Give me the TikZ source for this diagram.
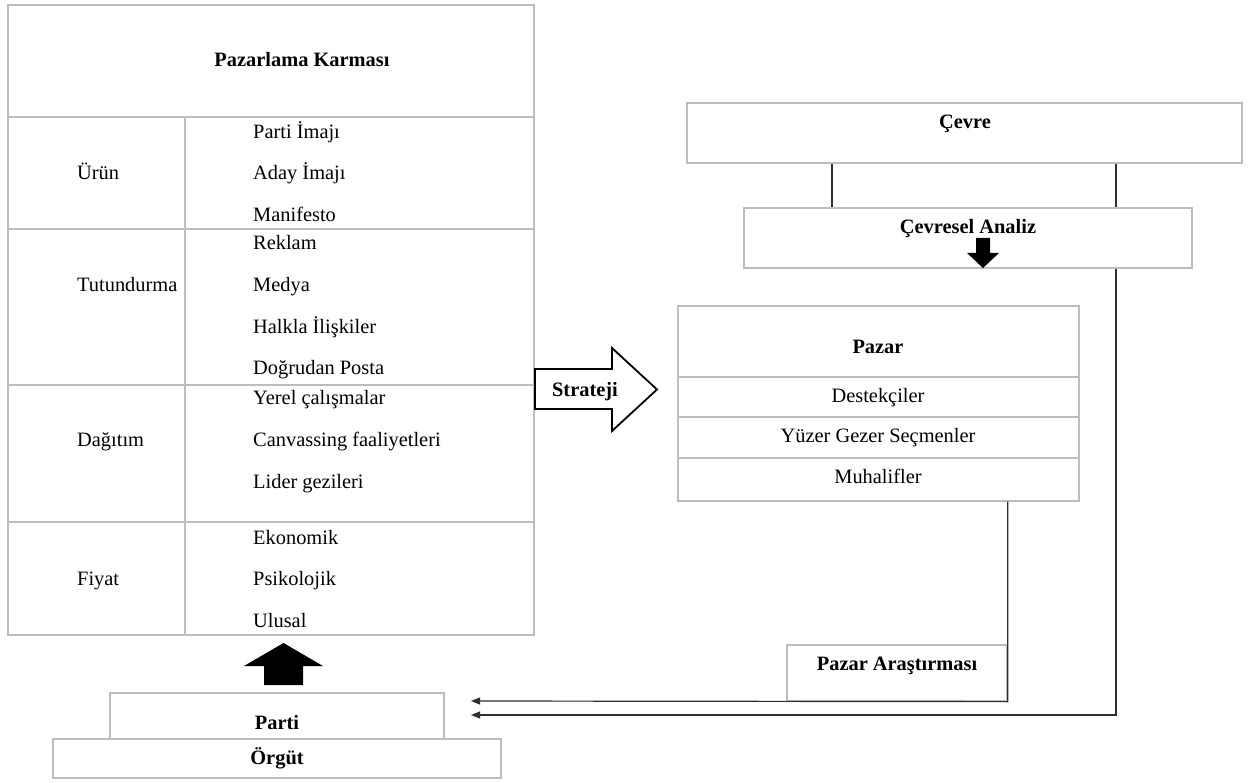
\documentclass[tikz,border=0pt]{standalone}
\usepackage{fontspec}
\setmainfont{Liberation Serif}
\usetikzlibrary{arrows.meta}
\definecolor{gridgray}{HTML}{BDBDBD}
\definecolor{linkgray}{HTML}{2E2E2E}
\begin{document}
\begin{tikzpicture}[x=1pt,y=-1pt,
  frame/.style={draw=gridgray,line width=1.3pt,rectangle,inner sep=0pt},
  txt/.style={inner sep=0pt,anchor=base,font=\fontsize{20.4}{24}\selectfont},
  btxt/.style={txt,font=\fontsize{20.4}{24}\selectfont\bfseries},
  ltxt/.style={txt,anchor=base west},
  link/.style={draw=linkgray,line width=1.2pt},
  tip/.style={-{Triangle[length=9pt,width=7pt]}},
  block/.style={fill=black,draw=none}]
% page
\useasboundingbox (0,0) rectangle (1251,783);
\fill[white] (0,0) rectangle (1251,783);

% marketing mix table
\node[frame,minimum width=526pt,minimum height=630pt] (mix) at (271,320) {};
\coordinate (colx) at (185,0);
\coordinate (r0) at (0,117);
\coordinate (r1) at (0,229);
\coordinate (r2) at (0,385);
\coordinate (r3) at (0,522);
\draw[draw=gridgray,line width=1.3pt] (mix.west |- r0) -- (mix.east |- r0);
\draw[draw=gridgray,line width=1.3pt] (mix.west |- r1) -- (mix.east |- r1);
\draw[draw=gridgray,line width=1.3pt] (mix.west |- r2) -- (mix.east |- r2);
\draw[draw=gridgray,line width=1.3pt] (mix.west |- r3) -- (mix.east |- r3);
\draw[draw=gridgray,line width=1.3pt] (r0 -| colx) -- (mix.south -| colx);

\node[btxt] (mixh) at (302,67) {Pazarlama Karması};
\node[ltxt] (c1) at (77,180) {Ürün};
\node[ltxt] (c2) at (77,292) {Tutundurma};
\node[ltxt] (c3) at (77,447) {Dağıtım};
\node[ltxt] (c4) at (77,585) {Fiyat};

\node[ltxt] (i1) at (253,139) {Parti İmajı};
\node[ltxt] (i2) at (253,180) {Aday İmajı};
\node[ltxt] (i3) at (253,222) {Manifesto};
\node[ltxt] (i4) at (253,250) {Reklam};
\node[ltxt] (i5) at (253,292) {Medya};
\node[ltxt] (i6) at (253,334) {Halkla İlişkiler};
\node[ltxt] (i7) at (253,375) {Doğrudan Posta};
\node[ltxt] (i8) at (253,405) {Yerel çalışmalar};
\node[ltxt] (i9) at (253,447) {Canvassing faaliyetleri};
\node[ltxt] (i10) at (253,489) {Lider gezileri};
\node[ltxt] (i11) at (253,544) {Ekonomik};
\node[ltxt] (i12) at (253,585) {Psikolojik};
\node[ltxt] (i13) at (253,627) {Ulusal};

% strategy arrow
\draw[black,line width=1.8pt,fill=white,line join=miter]
  (535,369) -- (612,369) -- (612,348) -- (657,389.5) -- (612,431) -- (612,409) -- (535,409) -- cycle;
\node[btxt] (strat) at (585,397) {Strateji};

% market box
\node[frame,minimum width=401pt,minimum height=195pt] (pazar) at (878.5,403.5) {};
\coordinate (p1) at (0,377);
\coordinate (p2) at (0,417);
\coordinate (p3) at (0,458);
\draw[draw=gridgray,line width=1.3pt] (pazar.west |- p1) -- (pazar.east |- p1);
\draw[draw=gridgray,line width=1.3pt] (pazar.west |- p2) -- (pazar.east |- p2);
\draw[draw=gridgray,line width=1.3pt] (pazar.west |- p3) -- (pazar.east |- p3);
\node[btxt] (pazarh) at (878,354) {Pazar};
\node[txt] (s1) at (878,403) {Destekçiler};
\node[txt] (s2) at (878,443) {Yüzer Gezer Seçmenler};
\node[txt] (s3) at (878,484) {Muhalifler};

% environment
\node[frame,minimum width=555pt,minimum height=60pt] (cevre) at (964.5,133) {};
\node[btxt] at (965,129) {Çevre};
\node[frame,minimum width=448pt,minimum height=60pt] (analiz) at (968,238) {};
\node[btxt] at (968,234) {Çevresel Analiz};
\fill[block] (976,238) -- (990,238) -- (990,253) -- (999,253) -- (983,268) -- (967,253) -- (976,253) -- cycle;

% market research
\node[frame,minimum width=220pt,minimum height=56pt] (arastirma) at (897,673) {};
\node[btxt] at (897,670) {Pazar Araştırması};

% party and organisation
\node[frame,minimum width=334pt,minimum height=46pt] (parti) at (277,716) {};
\node[btxt] at (277,729) {Parti};
\node[frame,minimum width=448pt,minimum height=39pt] (orgut) at (277,758.5) {};
\node[btxt] at (277,764) {Örgüt};
\fill[block] (264,685) -- (264,666) -- (244,666) -- (283.5,643) -- (323,666) -- (303,666) -- (303,685) -- cycle;

% connectors
\coordinate (lx) at (832,0);
\coordinate (rx) at (1116,0);
\coordinate (in1) at (471,701);
\coordinate (in2) at (471,715);
\draw[link] (cevre.south -| lx) -- (analiz.north -| lx);
\draw[link] (cevre.south -| rx) -- (analiz.north -| rx);
\draw[link,tip] (analiz.south -| rx) |- (in2);
\draw[link,tip] (pazar.south -| arastirma.east) -- (arastirma.south east) -- (in1);
\end{tikzpicture}
\end{document}
